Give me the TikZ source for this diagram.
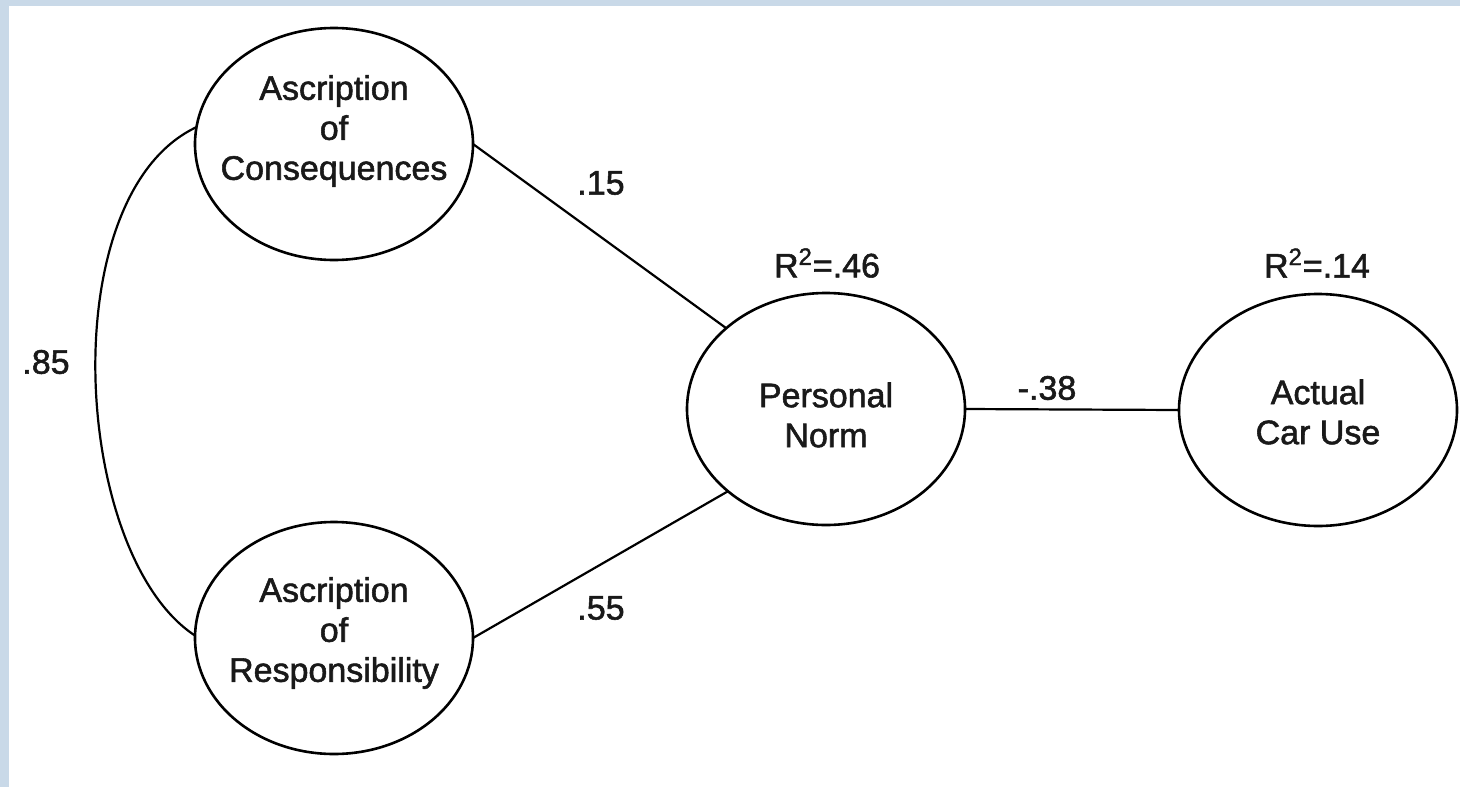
\documentclass[tikz,border=0pt]{standalone}
\usepackage{fontspec}
\setmainfont{Liberation Sans}
\newfontfamily\diagfont{Liberation Sans}[FakeBold=1.6]
\usepackage{tikz}
\usetikzlibrary{shapes}
\definecolor{frameblue}{RGB}{201,217,232}

\begin{document}
\begin{tikzpicture}[y=0.5pt, x=0.5pt, yscale=-1, inner sep=0pt, outer sep=0pt,
  latent/.style={ellipse, draw=black, line width=1.3pt,
    minimum width=139pt, minimum height=116pt},
  link/.style={draw=black, line join=miter, line cap=butt, line width=1.1pt},
  lbl/.style={align=center, text=black!90, font=\diagfont\fontsize{17}{20}\selectfont}]
  \useasboundingbox (0,0) rectangle (1460,787);
  \path[fill=frameblue] (0,0) rectangle (1460,6);
  \path[fill=frameblue] (0,0) rectangle (9,787);

  \node[latent] (cons) at (334,144) {};
  \node[latent] (resp) at (334,638) {};
  \node[latent] (pn) at (826,409) {};
  \node[latent] (acu) at (1318,410) {};

  \node[lbl] (cons-text) at (334,131) {Ascription\\of\\Consequences};
  \node[lbl] (resp-text) at (334,633) {Ascription\\of\\Responsibility};
  \node[lbl] (pn-text) at (826,415) {Personal\\Norm};
  \node[lbl] (acu-text) at (1318,412) {Actual\\Car Use};

  \path[link] (cons.173) .. controls (52,195) and (72,555) .. (resp.179);
  \path[link] (cons.east) -- (pn.141);
  \path[link] (resp.east) -- (pn.220);
  \path[link] (pn.east) -- (acu.west);

  \node[lbl] (text85) at (46,362) {.85};
  \node[lbl] (text15) at (601,183) {.15};
  \node[lbl] (text55) at (601,608) {.55};
  \node[lbl] (text38) at (1047,388) {-.38};
  \node[lbl] (textR46) at (827,263) {R\textsuperscript{2}=.46};
  \node[lbl] (textR14) at (1317,263) {R\textsuperscript{2}=.14};

\end{tikzpicture}
\end{document}
